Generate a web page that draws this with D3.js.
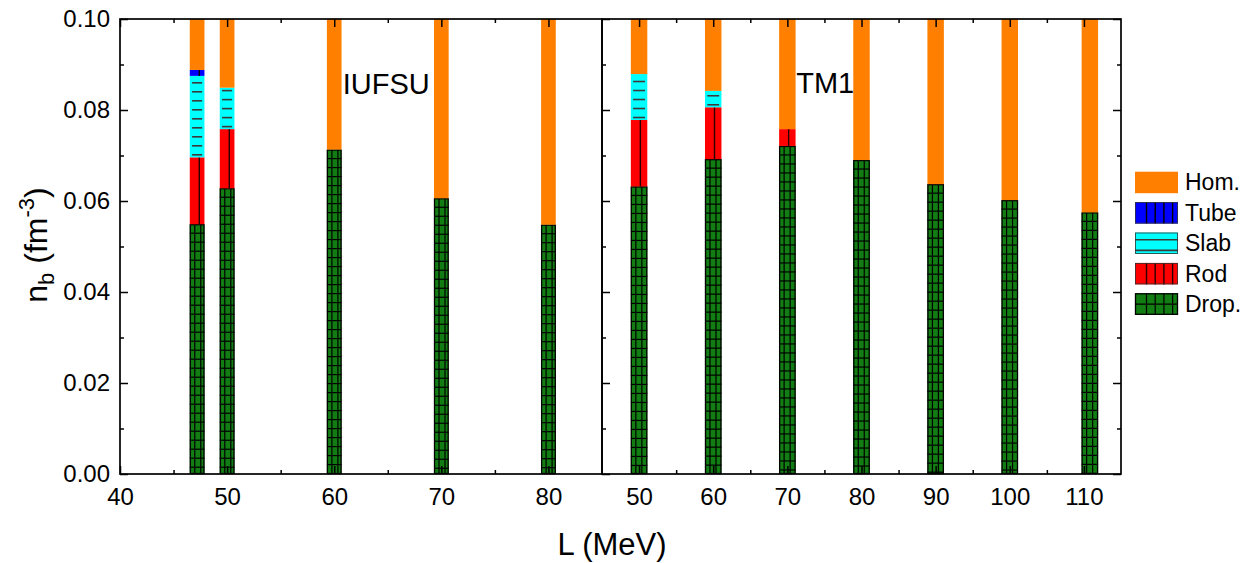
<!DOCTYPE html>
<html>
<head>
<meta charset="utf-8">
<script src="https://cdn.jsdelivr.net/npm/d3@7"></script>
<style>
  body { margin: 0; background: #fff; }
  svg { display: block; }
  text { font-family: "Liberation Sans", Arial, sans-serif; fill: #000; }
</style>
</head>
<body>
<svg id="chart" width="1258" height="563"></svg>
<script>
// ---- data: upper boundary (fm^-3) of each pasta phase, null = phase absent ----
const nbMax = 0.10;

// IUFSU family
const iufsuL       = [47.2, 50, 60, 70, 80];
const iufsuDropTop = [0.0549, 0.0628, 0.0713, 0.0606, 0.0548];
const iufsuRodTop  = [0.0696, 0.0758, null, null, null];
const iufsuSlabTop = [0.0875, 0.0849, null, null, null];
const iufsuTubeTop = [0.0888, null, null, null, null];

// TM1 family
const tm1L       = [50, 60, 70, 80, 90, 100, 110.8];
const tm1DropTop = [0.0632, 0.0692, 0.0721, 0.0690, 0.0637, 0.0602, 0.0575];
const tm1RodTop  = [0.0778, 0.0806, 0.0758, null, null, null, null];
const tm1SlabTop = [0.0879, 0.0842, null, null, null, null, null];
const tm1TubeTop = [null, null, null, null, null, null, null];

// axes ticks and legend
const yMajorTicks = [0, 0.02, 0.04, 0.06, 0.08, 0.10];
const yMinorTicks = [0.01, 0.03, 0.05, 0.07, 0.09];
const iufsuMajorTicks = [40, 50, 60, 70, 80];
const iufsuMinorTicks = [45, 55, 65, 75];
const tm1MajorTicks = [50, 60, 70, 80, 90, 100, 110];
const tm1MinorTicks = [55, 65, 75, 85, 95, 105];
const legendPhases = ["Hom.", "Tube", "Slab", "Rod", "Drop."];

// ---- phase appearance ----
const phaseStyle = {
  "Drop.": { fill: "#127d12", stroke: "#000", lineColor: "#000", lineWidth: 1.2,
             vertical: { offset: 5, step: 6 }, horizontal: { from: "top", offset: 9, step: 9 } },
  "Rod":   { fill: "#ff0000", stroke: null, lineColor: "#2a0000", lineWidth: 1.4,
             vertical: { offset: 9.5, step: 8.7 } },
  "Slab":  { fill: "#00ffff", stroke: null, lineColor: "#3a3a3a", lineWidth: 1.6,
             horizontal: { from: "bottom", offset: 2.5, step: 9, inset: 2.3 } },
  "Tube":  { fill: "#0000ff", stroke: null, lineColor: "#000", lineWidth: 1.4,
             vertical: { offset: 9.5, step: 8.7 } },
  "Hom.":  { fill: "#ff8000", stroke: null }
};
// legend swatches use wider-spaced hatching
const legendHatch = {
  "Drop.": { vertical: { offset: 11.5, step: 8.7 }, horizontal: { from: "top", offset: 10.8, step: 30 } },
  "Rod":   { vertical: { offset: 11.5, step: 8.7 } },
  "Tube":  { vertical: { offset: 11.5, step: 8.7 } },
  "Slab":  { horizontal: { from: "top", offset: 7.3, step: 10.6, inset: 0 } },
  "Hom.":  {}
};

const svg = d3.select("#chart");

const y = d3.scaleLinear().domain([0, nbMax]).range([474, 19]);
const xLeft = d3.scaleLinear().domain([40, 85]).range([120, 602]);
const xRight = d3.scaleLinear().domain([45, 115]).range([602, 1121]);

// build stacked segments for each bar
function segmentsFor(Ls, drop, rod, slab, tube) {
  const out = [];
  Ls.forEach((L, i) => {
    let lo = 0;
    const push = (phase, hi) => { if (hi != null) { out.push({ L, phase, lo, hi }); lo = hi; } };
    push("Drop.", drop[i]);
    push("Rod", rod[i]);
    push("Slab", slab[i]);
    push("Tube", tube[i]);
    push("Hom.", nbMax);
  });
  return out;
}

function hatch(g, x, yTop, w, h, style, spec) {
  const lines = [];
  if (spec.vertical) {
    for (let dx = spec.vertical.offset; dx < w - 0.5; dx += spec.vertical.step) {
      lines.push([x + dx, yTop, x + dx, yTop + h]);
    }
  }
  if (spec.horizontal) {
    const inset = spec.horizontal.inset || 0;
    for (let dy = spec.horizontal.offset; dy < h - 0.5; dy += spec.horizontal.step) {
      const yy = spec.horizontal.from === "top" ? yTop + dy : yTop + h - dy;
      lines.push([x + inset, yy, x + w - inset, yy]);
    }
  }
  g.selectAll(null).data(lines).join("line")
    .attr("x1", d => d[0]).attr("y1", d => d[1])
    .attr("x2", d => d[2]).attr("y2", d => d[3])
    .attr("stroke", style.lineColor)
    .attr("stroke-width", style.lineWidth);
}

function drawBars(xScale, segs, barWidthUnits) {
  const g = svg.append("g");
  const bw = xScale(xScale.domain()[0] + barWidthUnits) - xScale(xScale.domain()[0]);
  segs.forEach(s => {
    const st = phaseStyle[s.phase];
    const x0 = xScale(s.L) - bw / 2;
    const yTop = y(s.hi), h = y(s.lo) - y(s.hi);
    const sg = g.append("g");
    sg.append("rect")
      .attr("x", x0).attr("y", yTop).attr("width", bw).attr("height", h)
      .attr("fill", st.fill);
    hatch(sg, x0, yTop, bw, h, st, st);
    if (st.stroke) {
      sg.append("rect")
        .attr("x", x0 + 0.5).attr("y", yTop + 0.5).attr("width", bw - 1).attr("height", h - 1)
        .attr("fill", "none").attr("stroke", st.stroke).attr("stroke-width", 1.3);
    }
  });
}

drawBars(xLeft, segmentsFor(iufsuL, iufsuDropTop, iufsuRodTop, iufsuSlabTop, iufsuTubeTop), 1.37);
drawBars(xRight, segmentsFor(tm1L, tm1DropTop, tm1RodTop, tm1SlabTop, tm1TubeTop), 2.22);

// ---- axes ----
const axisColor = "#000";
function styleAxis(g) {
  g.select(".domain").remove();
  g.selectAll(".tick line").attr("stroke", axisColor).attr("stroke-width", 1.5);
  g.selectAll(".tick text").attr("font-size", 24).attr("fill", "#000")
    .attr("font-family", "'Liberation Sans', Arial, sans-serif");
}

function panelAxes(xScale, majors, minors, showYLabels) {
  const [x0, x1] = xScale.range();
  const yb = y(0), yt = y(nbMax);
  // bottom
  svg.append("g").attr("transform", `translate(0,${yb})`)
    .call(d3.axisBottom(xScale).tickValues(majors).tickSize(-8).tickPadding(14).tickFormat(d3.format("d")))
    .call(styleAxis);
  svg.append("g").attr("transform", `translate(0,${yb})`)
    .call(d3.axisBottom(xScale).tickValues(minors).tickSize(-4).tickFormat(""))
    .call(styleAxis);
  // top
  svg.append("g").attr("transform", `translate(0,${yt})`)
    .call(d3.axisTop(xScale).tickValues(majors).tickSize(-8).tickFormat(""))
    .call(styleAxis);
  svg.append("g").attr("transform", `translate(0,${yt})`)
    .call(d3.axisTop(xScale).tickValues(minors).tickSize(-4).tickFormat(""))
    .call(styleAxis);
  // left
  svg.append("g").attr("transform", `translate(${x0},0)`)
    .call(d3.axisLeft(y).tickValues(yMajorTicks).tickSize(-8).tickPadding(10)
      .tickFormat(showYLabels ? d3.format(".2f") : ""))
    .call(styleAxis);
  svg.append("g").attr("transform", `translate(${x0},0)`)
    .call(d3.axisLeft(y).tickValues(yMinorTicks).tickSize(-4).tickFormat(""))
    .call(styleAxis);
  // frame
  svg.append("rect")
    .attr("x", x0).attr("y", yt).attr("width", x1 - x0).attr("height", yb - yt)
    .attr("fill", "none").attr("stroke", axisColor).attr("stroke-width", 1.7);
}

panelAxes(xLeft, iufsuMajorTicks, iufsuMinorTicks, true);
panelAxes(xRight, tm1MajorTicks, tm1MinorTicks, false);

// right edge ticks of the TM1 panel
svg.append("g").attr("transform", `translate(${xRight.range()[1]},0)`)
  .call(d3.axisRight(y).tickValues(yMajorTicks).tickSize(-8).tickFormat(""))
  .call(styleAxis);
svg.append("g").attr("transform", `translate(${xRight.range()[1]},0)`)
  .call(d3.axisRight(y).tickValues(yMinorTicks).tickSize(-4).tickFormat(""))
  .call(styleAxis);

// ---- panel names ----
svg.append("text").attr("x", xLeft(60.8)).attr("y", y(0.0836))
  .attr("font-size", 29).text("IUFSU");
svg.append("text").attr("x", xRight(71.2)).attr("y", y(0.0837))
  .attr("font-size", 29).text("TM1");

// ---- axis titles ----
svg.append("text").attr("x", 612).attr("y", 555).attr("text-anchor", "middle")
  .attr("font-size", 31).text("L (MeV)");

const yt = svg.append("text")
  .attr("transform", "translate(47,245) rotate(-90)")
  .attr("text-anchor", "middle").attr("font-size", 32);
yt.append("tspan").text("n");
yt.append("tspan").attr("font-size", 22).attr("dy", 7).text("b");
yt.append("tspan").attr("dy", -7).text(" (fm");
yt.append("tspan").attr("font-size", 22).attr("dy", -13).text("-3");
yt.append("tspan").attr("dy", 13).text(")");

// ---- legend ----
const legX = 1135, legW = 43, legH = 21.5, legY0 = 171.7, legStep = 30.4;
const leg = svg.append("g");
legendPhases.forEach((p, i) => {
  const st = phaseStyle[p];
  const yy = legY0 + i * legStep;
  const g = leg.append("g");
  g.append("rect").attr("x", legX).attr("y", yy).attr("width", legW).attr("height", legH)
    .attr("fill", st.fill);
  hatch(g, legX, yy, legW, legH, st, legendHatch[p]);
  if (p !== "Hom.") {
    g.append("rect").attr("x", legX + 0.5).attr("y", yy + 0.5).attr("width", legW - 1).attr("height", legH - 1)
      .attr("fill", "none").attr("stroke", p === "Drop." ? "#000" : "#333").attr("stroke-width", p === "Drop." ? 1.3 : 0.8);
  }
  g.append("text").attr("x", legX + legW + 7).attr("y", yy + legH / 2 + 8)
    .attr("font-size", 23).text(p);
});
</script>
</body>
</html>
